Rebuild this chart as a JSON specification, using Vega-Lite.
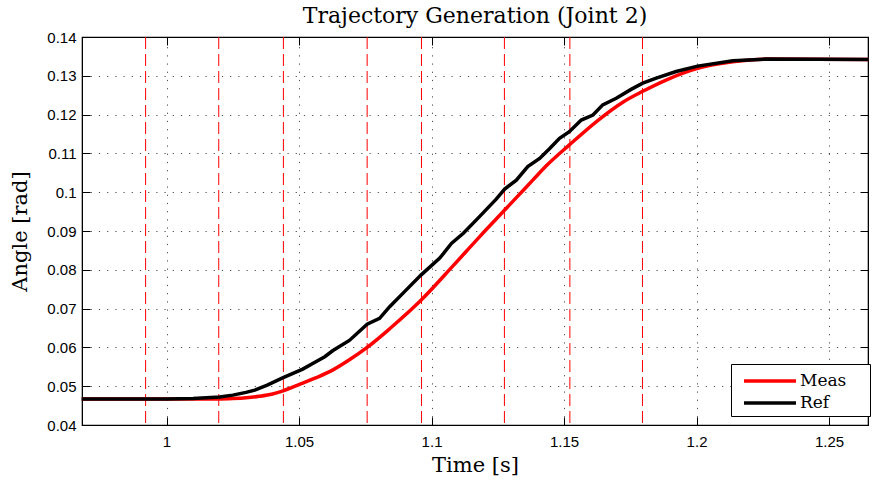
{
  "$schema": "https://vega.github.io/schema/vega-lite/v6.json",
  "width": 786,
  "height": 388,
  "autosize": {"type": "none"},
  "padding": {"left": 82, "top": 37, "right": 5, "bottom": 58},
  "background": "white",
  "title": {"text": "Trajectory Generation (Joint 2)", "font": "DejaVu Serif", "fontSize": 22, "fontWeight": "normal", "color": "black", "offset": 2},
  "config": {
    "view": {"stroke": "black", "strokeWidth": 1.2},
    "axis": {
      "labelFont": "Liberation Sans", "labelFontSize": 15, "labelColor": "black",
      "titleFont": "DejaVu Serif", "titleFontSize": 21, "titleFontWeight": "normal", "titleColor": "black",
      "domainColor": "black", "tickColor": "black", "tickSize": -8, "tickWidth": 1,
      "gridColor": "#222", "gridDash": [1.2, 7], "gridOpacity": 0.8, "gridWidth": 1
    }
  },
  "datasets": {
    "events": [
      {"t": 0.9921}, {"t": 1.0197}, {"t": 1.0441}, {"t": 1.0757},
      {"t": 1.0962}, {"t": 1.1275}, {"t": 1.1522}, {"t": 1.1796}
    ],
    "curves": [
      {"series": "Meas", "t": 0.968, "angle": 0.0467},
      {"series": "Meas", "t": 1.0, "angle": 0.0467},
      {"series": "Meas", "t": 1.02, "angle": 0.0467},
      {"series": "Meas", "t": 1.025, "angle": 0.0468},
      {"series": "Meas", "t": 1.03, "angle": 0.0470},
      {"series": "Meas", "t": 1.035, "angle": 0.0474},
      {"series": "Meas", "t": 1.04, "angle": 0.0480},
      {"series": "Meas", "t": 1.044, "angle": 0.0488},
      {"series": "Meas", "t": 1.05, "angle": 0.0504},
      {"series": "Meas", "t": 1.0565, "angle": 0.0522},
      {"series": "Meas", "t": 1.0628, "angle": 0.0542},
      {"series": "Meas", "t": 1.069, "angle": 0.0568},
      {"series": "Meas", "t": 1.0757, "angle": 0.0600},
      {"series": "Meas", "t": 1.0842, "angle": 0.0648},
      {"series": "Meas", "t": 1.0961, "angle": 0.0722},
      {"series": "Meas", "t": 1.1081, "angle": 0.0810},
      {"series": "Meas", "t": 1.1181, "angle": 0.0885},
      {"series": "Meas", "t": 1.1276, "angle": 0.0954},
      {"series": "Meas", "t": 1.1313, "angle": 0.0981},
      {"series": "Meas", "t": 1.1382, "angle": 0.1031},
      {"series": "Meas", "t": 1.1433, "angle": 0.1068},
      {"series": "Meas", "t": 1.152, "angle": 0.1122},
      {"series": "Meas", "t": 1.1633, "angle": 0.1188},
      {"series": "Meas", "t": 1.1722, "angle": 0.1232},
      {"series": "Meas", "t": 1.1797, "angle": 0.1260},
      {"series": "Meas", "t": 1.1885, "angle": 0.1289},
      {"series": "Meas", "t": 1.2004, "angle": 0.1319},
      {"series": "Meas", "t": 1.2137, "angle": 0.1336},
      {"series": "Meas", "t": 1.2262, "angle": 0.1343},
      {"series": "Meas", "t": 1.265, "angle": 0.1342},
      {"series": "Ref", "t": 0.968, "angle": 0.0467},
      {"series": "Ref", "t": 1.0, "angle": 0.0467},
      {"series": "Ref", "t": 1.01, "angle": 0.0468},
      {"series": "Ref", "t": 1.015, "angle": 0.0470},
      {"series": "Ref", "t": 1.02, "angle": 0.0472},
      {"series": "Ref", "t": 1.025, "angle": 0.0477},
      {"series": "Ref", "t": 1.03, "angle": 0.0484},
      {"series": "Ref", "t": 1.0333, "angle": 0.0490},
      {"series": "Ref", "t": 1.038, "angle": 0.0503},
      {"series": "Ref", "t": 1.044, "angle": 0.0522},
      {"series": "Ref", "t": 1.0514, "angle": 0.0544},
      {"series": "Ref", "t": 1.0555, "angle": 0.0560},
      {"series": "Ref", "t": 1.0597, "angle": 0.0576},
      {"series": "Ref", "t": 1.0628, "angle": 0.0592},
      {"series": "Ref", "t": 1.069, "angle": 0.0618},
      {"series": "Ref", "t": 1.0757, "angle": 0.0660},
      {"series": "Ref", "t": 1.0804, "angle": 0.0675},
      {"series": "Ref", "t": 1.0842, "angle": 0.0705},
      {"series": "Ref", "t": 1.09, "angle": 0.0745},
      {"series": "Ref", "t": 1.0961, "angle": 0.0787},
      {"series": "Ref", "t": 1.1031, "angle": 0.0830},
      {"series": "Ref", "t": 1.1075, "angle": 0.0868},
      {"series": "Ref", "t": 1.112, "angle": 0.0894},
      {"series": "Ref", "t": 1.1181, "angle": 0.0937},
      {"series": "Ref", "t": 1.1244, "angle": 0.0982},
      {"series": "Ref", "t": 1.1276, "angle": 0.1008},
      {"series": "Ref", "t": 1.132, "angle": 0.1031},
      {"series": "Ref", "t": 1.1363, "angle": 0.1066},
      {"series": "Ref", "t": 1.1408, "angle": 0.1087},
      {"series": "Ref", "t": 1.1445, "angle": 0.1112},
      {"series": "Ref", "t": 1.1483, "angle": 0.1139},
      {"series": "Ref", "t": 1.152, "angle": 0.1156},
      {"series": "Ref", "t": 1.1565, "angle": 0.1186},
      {"series": "Ref", "t": 1.1609, "angle": 0.1199},
      {"series": "Ref", "t": 1.1646, "angle": 0.1225},
      {"series": "Ref", "t": 1.1697, "angle": 0.1242},
      {"series": "Ref", "t": 1.1753, "angle": 0.1265},
      {"series": "Ref", "t": 1.1797, "angle": 0.1281},
      {"series": "Ref", "t": 1.1848, "angle": 0.1294},
      {"series": "Ref", "t": 1.1923, "angle": 0.1311},
      {"series": "Ref", "t": 1.2004, "angle": 0.1325},
      {"series": "Ref", "t": 1.2137, "angle": 0.1339},
      {"series": "Ref", "t": 1.2262, "angle": 0.1343},
      {"series": "Ref", "t": 1.265, "angle": 0.1342}
    ]
  },
  "resolve": {"axis": {"x": "independent", "y": "independent"}},
  "layer": [
    {
      "data": {"name": "events"},
      "mark": {"type": "rule", "color": "#ff0000", "strokeDash": [12, 5], "strokeWidth": 1},
      "encoding": {
        "x": {"field": "t", "type": "quantitative",
              "scale": {"domain": [0.9681, 1.2647], "nice": false, "zero": false},
              "axis": {"orient": "bottom", "values": [1, 1.05, 1.1, 1.15, 1.2, 1.25], "format": "~g", "title": "Time [s]", "grid": true, "labelPadding": 17, "titlePadding": 5, "domain": true}}
      }
    },
    {
      "data": {"name": "curves"},
      "transform": [{"filter": "datum.series === 'Meas'"}],
      "mark": {"type": "line", "strokeWidth": 3.5, "interpolate": "monotone"},
      "encoding": {
        "x": {"field": "t", "type": "quantitative",
              "axis": {"orient": "top", "values": [1, 1.05, 1.1, 1.15, 1.2, 1.25], "labels": false, "title": null, "grid": false}},
        "y": {"field": "angle", "type": "quantitative",
              "scale": {"domain": [0.04, 0.14], "nice": false, "zero": false},
              "axis": {"orient": "left", "values": [0.04, 0.05, 0.06, 0.07, 0.08, 0.09, 0.1, 0.11, 0.12, 0.13, 0.14], "format": "~g", "title": "Angle [rad]", "grid": true, "labelPadding": 14, "titlePadding": 16}},
        "color": {"field": "series", "type": "nominal",
                  "scale": {"domain": ["Meas", "Ref"], "range": ["#ff0000", "#000000"]},
                  "legend": {"orient": "none", "legendX": 649, "legendY": 327, "title": null,
                             "strokeColor": "black", "fillColor": "white", "padding": 5,
                             "symbolType": "M-2.6,0H2.6", "symbolSize": 400, "symbolStrokeWidth": 3.5,
                             "symbolOffset": 22,
                             "labelFont": "DejaVu Serif", "labelFontSize": 17, "labelColor": "black",
                             "labelOffset": 18, "rowPadding": 2,
                             "labelExpr": "datum.label + ' \u2800'"}}
      }
    },
    {
      "data": {"name": "curves"},
      "transform": [{"filter": "datum.series === 'Ref'"}],
      "mark": {"type": "line", "strokeWidth": 3.5},
      "encoding": {
        "x": {"field": "t", "type": "quantitative", "axis": null},
        "y": {"field": "angle", "type": "quantitative",
              "axis": {"orient": "right", "values": [0.04, 0.05, 0.06, 0.07, 0.08, 0.09, 0.1, 0.11, 0.12, 0.13, 0.14], "labels": false, "title": null, "grid": false}},
        "color": {"field": "series", "type": "nominal"}
      }
    }
  ]
}
